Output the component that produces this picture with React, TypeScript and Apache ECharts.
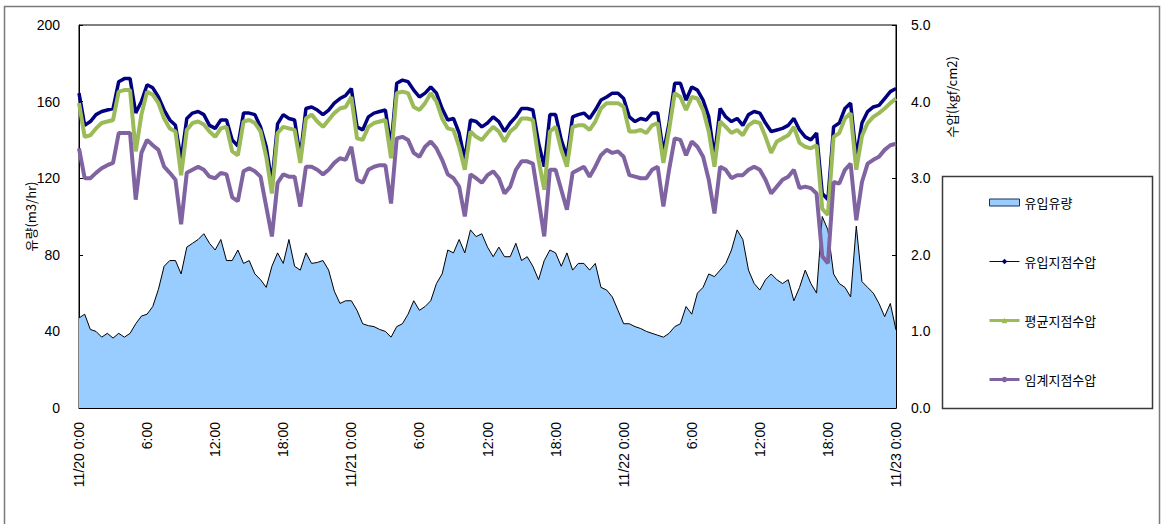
import React, { useEffect, useRef } from "react";
import * as echarts from "echarts";

// Samples every 30 minutes from 11/20 0:00 to 11/23 0:00 (145 points per series).
const STEP_HOURS = 0.5;

const X_TICK_LABELS = [
  "11/20 0:00", "6:00", "12:00", "18:00",
  "11/21 0:00", "6:00", "12:00", "18:00",
  "11/22 0:00", "6:00", "12:00", "18:00",
  "11/23 0:00",
];

// 유입유량 (m3/hr)
const FLOW = [
  47, 49, 41, 40, 37, 39, 36.5, 39, 37, 39,
  44, 48, 49, 53, 62, 74, 77, 77, 70, 84,
  86, 88, 91, 86, 82.5, 88, 77, 77, 82.5, 75.5,
  77, 70, 67, 63, 74, 81, 75.5, 88, 74, 72,
  81, 75.5, 76, 77, 72, 61, 54.6, 56, 56, 51,
  44, 43, 42.5, 41, 40, 37, 42.5, 44, 49, 56,
  51, 53, 56, 65, 70, 82.5, 81, 88, 81, 93,
  89.5, 91, 84, 79, 84, 79, 79, 86, 77, 79,
  74, 67, 77, 82.5, 81, 74, 81, 72, 75.5, 75.5,
  72, 75.5, 63, 61.6, 58, 51, 44, 44, 42.5, 41.5,
  40, 39, 38, 37, 39, 42.5, 44, 53, 49, 60,
  63, 70, 68.6, 72, 75.5, 82.5, 93, 88, 72, 65,
  61.6, 67, 70, 67, 65, 67, 56, 63, 72, 65,
  60, 100, 93, 70, 65, 63, 58, 95, 66, 63,
  60, 54.6, 47.7, 54.6, 40.7,
];

// 유입지점수압 (kgf/cm2)
const INLET_PRESSURE = [
  4.11, 3.69, 3.74, 3.83, 3.87, 3.89, 3.91, 4.26, 4.3, 4.3,
  3.85, 4.0, 4.22, 4.18, 4.06, 3.89, 3.76, 3.69, 3.24, 3.78,
  3.85, 3.87, 3.83, 3.69, 3.65, 3.76, 3.76, 3.5, 3.42, 3.85,
  3.85, 3.83, 3.67, 3.41, 2.94, 3.71, 3.83, 3.78, 3.76, 3.28,
  3.91, 3.93, 3.89, 3.83, 3.89, 3.98, 4.04, 4.08, 4.17, 3.67,
  3.63, 3.8, 3.85, 3.87, 3.89, 3.41, 4.24, 4.28, 4.26, 4.15,
  4.06, 4.11, 4.19, 4.11, 3.91, 3.76, 3.78, 3.59, 3.24, 3.76,
  3.74, 3.67, 3.72, 3.8, 3.74, 3.61, 3.72, 3.8, 3.91, 3.91,
  3.89, 3.46, 3.15, 3.83, 3.83, 3.5, 3.28, 3.8, 3.83, 3.85,
  3.78, 3.89, 4.02, 4.06, 4.11, 4.11, 4.04, 3.8, 3.74, 3.78,
  3.76, 3.85, 3.85, 3.33, 3.72, 4.24, 4.24, 4.02, 4.19, 4.15,
  4.02, 3.8, 3.28, 3.91, 3.8, 3.74, 3.78, 3.69, 3.83, 3.87,
  3.85, 3.72, 3.61, 3.63, 3.65, 3.69, 3.78, 3.63, 3.54, 3.5,
  3.59, 2.8, 2.72, 3.67, 3.72, 3.91, 3.98, 3.28, 3.72, 3.87,
  3.93, 3.95, 4.04, 4.13, 4.17,
];

// 평균지점수압 (kgf/cm2)
const AVERAGE_PRESSURE = [
  3.98, 3.54, 3.56, 3.65, 3.72, 3.74, 3.76, 4.13, 4.15, 4.15,
  3.35, 3.83, 4.13, 4.09, 3.98, 3.78, 3.65, 3.61, 3.04, 3.63,
  3.72, 3.74, 3.7, 3.61, 3.54, 3.65, 3.67, 3.35, 3.3, 3.74,
  3.76, 3.72, 3.61, 3.28, 2.8, 3.59, 3.67, 3.65, 3.63, 3.2,
  3.78, 3.83, 3.74, 3.67, 3.76, 3.85, 3.91, 3.93, 4.06, 3.52,
  3.5, 3.67, 3.72, 3.74, 3.76, 3.26, 4.11, 4.13, 4.11, 3.93,
  3.89, 3.98, 4.11, 4.0, 3.78, 3.65, 3.63, 3.41, 3.11, 3.61,
  3.54, 3.5, 3.59, 3.67, 3.61, 3.48, 3.61, 3.67, 3.78, 3.78,
  3.76, 3.24, 2.85, 3.61, 3.67, 3.37, 3.15, 3.67, 3.69, 3.69,
  3.63, 3.74, 3.91, 3.98, 3.98, 3.98, 3.93, 3.61, 3.61, 3.63,
  3.59, 3.69, 3.72, 3.2, 3.63, 4.11, 4.06, 3.89, 4.06, 4.04,
  3.89, 3.61, 3.15, 3.74, 3.67, 3.59, 3.63, 3.56, 3.69, 3.74,
  3.72, 3.54, 3.33, 3.48, 3.52, 3.56, 3.67, 3.46, 3.41, 3.39,
  3.43, 2.6, 2.52, 3.54, 3.59, 3.78, 3.85, 3.11, 3.55, 3.72,
  3.8, 3.85, 3.91, 3.98, 4.04,
];

// 임계지점수압 (kgf/cm2)
const CRITICAL_PRESSURE = [
  3.39, 3.0, 3.0, 3.07, 3.13, 3.17, 3.2, 3.59, 3.59, 3.59,
  2.72, 3.33, 3.5, 3.43, 3.37, 3.15, 3.07, 2.98, 2.4, 3.07,
  3.11, 3.15, 3.11, 3.02, 3.0, 3.07, 3.05, 2.75, 2.7, 3.09,
  3.13, 3.09, 3.02, 2.63, 2.24, 2.94, 3.05, 3.02, 3.02, 2.63,
  3.15, 3.15, 3.11, 3.05, 3.11, 3.2, 3.26, 3.24, 3.41, 2.98,
  2.94, 3.11, 3.15, 3.17, 3.17, 2.67, 3.52, 3.54, 3.5, 3.33,
  3.28, 3.41, 3.48, 3.39, 3.24, 3.05, 3.0, 2.89, 2.5, 3.05,
  3.0, 2.94, 3.04, 3.09, 3.0, 2.8, 2.89, 3.11, 3.22, 3.22,
  3.19, 2.72, 2.24, 3.11, 3.11, 2.85, 2.59, 3.07, 3.11, 3.15,
  3.02, 3.15, 3.3, 3.37, 3.33, 3.35, 3.28, 3.04, 3.02, 3.0,
  3.0, 3.11, 3.15, 2.63, 3.11, 3.52, 3.5, 3.3, 3.48, 3.41,
  3.28, 2.98, 2.54, 3.15, 3.11, 3.0, 3.04, 3.04, 3.11, 3.15,
  3.11, 2.98, 2.8, 2.89, 2.98, 3.02, 3.11, 2.87, 2.89, 2.87,
  2.8, 1.98, 1.89, 2.95, 2.93, 3.11, 3.19, 2.45, 2.95, 3.19,
  3.24, 3.28, 3.37, 3.43, 3.45,
];

const SERIES_NAMES = ["유입유량", "유입지점수압", "평균지점수압", "임계지점수압"];

const LATIN_FONT = "'Liberation Sans', Arial, sans-serif";
const KOREAN_FONT = "'Noto Sans CJK KR', 'Liberation Sans', sans-serif";

const toPairs = (values: number[]) => values.map((v, i) => [i * STEP_HOURS, v]);

export default function App() {
  const ref = useRef<HTMLDivElement>(null);

  useEffect(() => {
    if (!ref.current) return;
    const chart = echarts.init(ref.current, undefined, { renderer: "svg" });

    chart.setOption({
      animation: false,
      backgroundColor: "#ffffff",
      grid: {
        left: 79,
        right: 270,
        top: 25,
        bottom: 116,
        show: true,
        borderColor: "#000000",
        borderWidth: 1,
        backgroundColor: "#ffffff",
      },
      graphic: [
        {
          type: "rect",
          z: 0,
          shape: { x: 4.5, y: 6.5, width: 1155, height: 540 },
          style: { fill: "none", stroke: "#7a7a7a", lineWidth: 1.5 },
          silent: true,
        },
        {
          type: "rect",
          z: 1,
          shape: { x: 942.5, y: 176.5, width: 210, height: 232 },
          style: { fill: "#ffffff", stroke: "#3a3a3a", lineWidth: 1.5 },
          silent: true,
        },
        {
          type: "text",
          z: 2,
          x: 951,
          y: 97,
          rotation: Math.PI / 2,
          style: {
            text: "수압(kgf/cm2)",
            fontSize: 13,
            fontFamily: KOREAN_FONT,
            fill: "#000000",
            align: "center",
            verticalAlign: "middle",
          },
        },
      ],
      legend: {
        orient: "vertical",
        left: 983,
        top: 191,
        itemWidth: 30,
        itemHeight: 7,
        itemGap: 46,
        z: 5,
        textStyle: {
          fontSize: 13,
          fontFamily: KOREAN_FONT,
          color: "#000000",
        },
        data: [
          {
            name: SERIES_NAMES[0],
            icon: "rect",
            itemStyle: { color: "#99CCFF", borderColor: "#1f2f5a", borderWidth: 1 },
          },
          { name: SERIES_NAMES[1], lineStyle: { width: 1 } },
          { name: SERIES_NAMES[2], lineStyle: { width: 3 } },
          { name: SERIES_NAMES[3], lineStyle: { width: 3 } },
        ],
      },
      xAxis: {
        type: "value",
        min: 0,
        max: 72,
        interval: 6,
        axisLine: { show: true, lineStyle: { color: "#000000" } },
        axisTick: { show: false },
        splitLine: { show: false },
        axisLabel: {
          rotate: 90,
          margin: 14,
          fontSize: 14,
          fontFamily: LATIN_FONT,
          color: "#000000",
          showMinLabel: true,
          showMaxLabel: true,
          formatter: (v: number) => X_TICK_LABELS[Math.round(v / 6)] ?? "",
        },
      },
      yAxis: [
        {
          type: "value",
          min: 0,
          max: 200,
          interval: 40,
          name: "유량(m3/hr)",
          nameLocation: "middle",
          nameGap: 49,
          nameRotate: 90,
          nameMoveOverlap: false,
          nameTextStyle: {
            fontSize: 13,
            fontFamily: KOREAN_FONT,
            color: "#000000",
            verticalAlign: "middle",
          },
          axisLine: { show: true, lineStyle: { color: "#000000" } },
          axisTick: { show: true, inside: true, length: 4, lineStyle: { color: "#000000" } },
          splitLine: { show: false },
          axisLabel: { fontSize: 14, fontFamily: LATIN_FONT, color: "#000000", margin: 19 },
        },
        {
          type: "value",
          min: 0,
          max: 5,
          interval: 1,
          position: "right",
          axisLine: { show: true, lineStyle: { color: "#000000" } },
          axisTick: { show: true, inside: true, length: 4, lineStyle: { color: "#000000" } },
          splitLine: { show: false },
          axisLabel: {
            fontSize: 14,
            fontFamily: LATIN_FONT,
            color: "#000000",
            margin: 15,
            formatter: (v: number) => v.toFixed(1),
          },
        },
      ],
      series: [
        {
          name: SERIES_NAMES[0],
          type: "line",
          yAxisIndex: 0,
          data: toPairs(FLOW),
          showSymbol: false,
          symbol: "rect",
          itemStyle: { color: "#99CCFF" },
          lineStyle: { color: "#000000", width: 1 },
          areaStyle: { color: "#99CCFF", opacity: 1 },
          z: 2,
        },
        {
          name: SERIES_NAMES[1],
          type: "line",
          yAxisIndex: 1,
          data: toPairs(INLET_PRESSURE),
          showSymbol: false,
          symbol: "diamond",
          symbolSize: 5,
          itemStyle: { color: "#000080" },
          lineStyle: { color: "#000080", width: 3.5 },
          z: 3,
        },
        {
          name: SERIES_NAMES[2],
          type: "line",
          yAxisIndex: 1,
          data: toPairs(AVERAGE_PRESSURE),
          showSymbol: false,
          symbol: "triangle",
          symbolSize: 5,
          itemStyle: { color: "#9BBB59" },
          lineStyle: { color: "#9BBB59", width: 4 },
          z: 4,
        },
        {
          name: SERIES_NAMES[3],
          type: "line",
          yAxisIndex: 1,
          data: toPairs(CRITICAL_PRESSURE),
          showSymbol: false,
          symbol: "circle",
          symbolSize: 4,
          itemStyle: { color: "#8064A2" },
          lineStyle: { color: "#8064A2", width: 4 },
          z: 5,
        },
      ],
    });

    return () => chart.dispose();
  }, []);

  return (
    <div
      ref={ref}
      style={{ position: "fixed", left: 0, top: 0, width: 1166, height: 524, background: "#ffffff" }}
    />
  );
}
